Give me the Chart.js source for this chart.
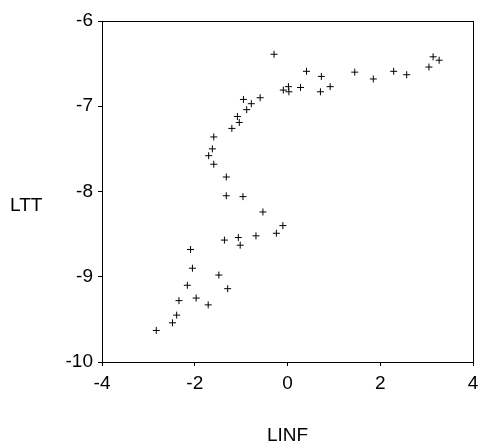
<!DOCTYPE html>
<html>
<head>
<meta charset="utf-8">
<script src="https://cdn.jsdelivr.net/npm/chart.js@4"></script>
<style>
  html, body { margin: 0; padding: 0; background: #fff; }
  #wrap { width: 480px; height: 445px; }
</style>
</head>
<body>
<div id="wrap"><canvas id="c" width="480" height="445"></canvas></div>
<script>
// LINF (x) and LTT (y) observations
const linf = [
  -0.29, 0.41, 0.73, 1.45, 1.85, 2.29, 2.57, 3.05, 3.14, 3.27,
  -0.09, 0.02, 0.03, 0.28, 0.71, 0.92, -0.59, -0.95, -0.78, -0.88,
  -1.08, -1.04, -1.20, -1.59, -1.62, -1.70, -1.59, -1.32, -1.32, -0.96,
  -0.53, -0.10, -0.24, -0.68, -1.06, -1.02, -1.36, -2.09, -2.05, -1.48,
  -1.29, -2.16, -1.97, -2.34, -1.71, -2.39, -2.48, -2.83
];
const ltt = [
  -6.39, -6.59, -6.65, -6.60, -6.68, -6.59, -6.63, -6.54, -6.42, -6.46,
  -6.81, -6.77, -6.83, -6.78, -6.83, -6.77, -6.90, -6.92, -6.97, -7.04,
  -7.12, -7.19, -7.26, -7.36, -7.50, -7.58, -7.68, -7.83, -8.05, -8.06,
  -8.24, -8.40, -8.49, -8.52, -8.54, -8.63, -8.57, -8.68, -8.90, -8.98,
  -9.14, -9.10, -9.25, -9.28, -9.33, -9.45, -9.54, -9.63
];
const xTicks = [-4, -2, 0, 2, 4];
const yTicks = [-10, -9, -8, -7, -6];
const xTitle = 'LINF';
const yTitle = 'LTT';

const points = linf.map((x, i) => ({ x: x, y: ltt[i] }));
const FONT = { family: 'Liberation Sans, Arial, sans-serif', size: 19 };

// Frame around the plot area plus horizontal axis titles
const framePlugin = {
  id: 'frame',
  afterDraw(chart) {
    const { ctx, chartArea: a } = chart;
    ctx.save();
    ctx.strokeStyle = '#000';
    ctx.lineWidth = 1;
    ctx.strokeRect(Math.round(a.left) + 0.5, Math.round(a.top) + 0.5,
                   Math.round(a.right - a.left), Math.round(a.bottom - a.top));
    ctx.fillStyle = '#000';
    ctx.font = FONT.size + 'px ' + FONT.family;
    ctx.textAlign = 'left';
    ctx.textBaseline = 'middle';
    const ys = chart.scales.y;
    ctx.fillText(yTitle, 10, ys.getPixelForValue(-8.17));
    ctx.textAlign = 'center';
    ctx.textBaseline = 'alphabetic';
    const xs = chart.scales.x;
    ctx.fillText(xTitle, xs.getPixelForValue(0), 441);
    ctx.restore();
  }
};

new Chart(document.getElementById('c'), {
  type: 'scatter',
  data: {
    datasets: [{
      data: points,
      pointStyle: 'cross',
      pointRadius: 3.5,
      pointBorderWidth: 1,
      borderColor: '#000',
      backgroundColor: '#000'
    }]
  },
  options: {
    responsive: false,
    animation: false,
    devicePixelRatio: 1,
    layout: { padding: { top: 21, right: 7, left: 0, bottom: 0 } },
    plugins: { legend: { display: false }, tooltip: { enabled: false } },
    scales: {
      x: {
        type: 'linear',
        min: -4, max: 4,
        afterBuildTicks(s) { s.ticks = xTicks.map(v => ({ value: v })); },
        afterFit(s) { s.height = 83; s.paddingLeft = 0; s.paddingRight = 0; },
        grid: { drawOnChartArea: false, tickLength: 4, color: '#000' },
        border: { display: true, color: '#000' },
        ticks: { color: '#000', font: FONT, padding: 6, maxRotation: 0 }
      },
      y: {
        type: 'linear',
        min: -10, max: -6,
        afterBuildTicks(s) { s.ticks = yTicks.map(v => ({ value: v })); },
        afterFit(s) { s.width = 102; s.paddingTop = 0; s.paddingBottom = 0; },
        grid: { drawOnChartArea: false, tickLength: 4, color: '#000' },
        border: { display: true, color: '#000' },
        ticks: { color: '#000', font: FONT, padding: 5 }
      }
    }
  },
  plugins: [framePlugin]
});
</script>
</body>
</html>
